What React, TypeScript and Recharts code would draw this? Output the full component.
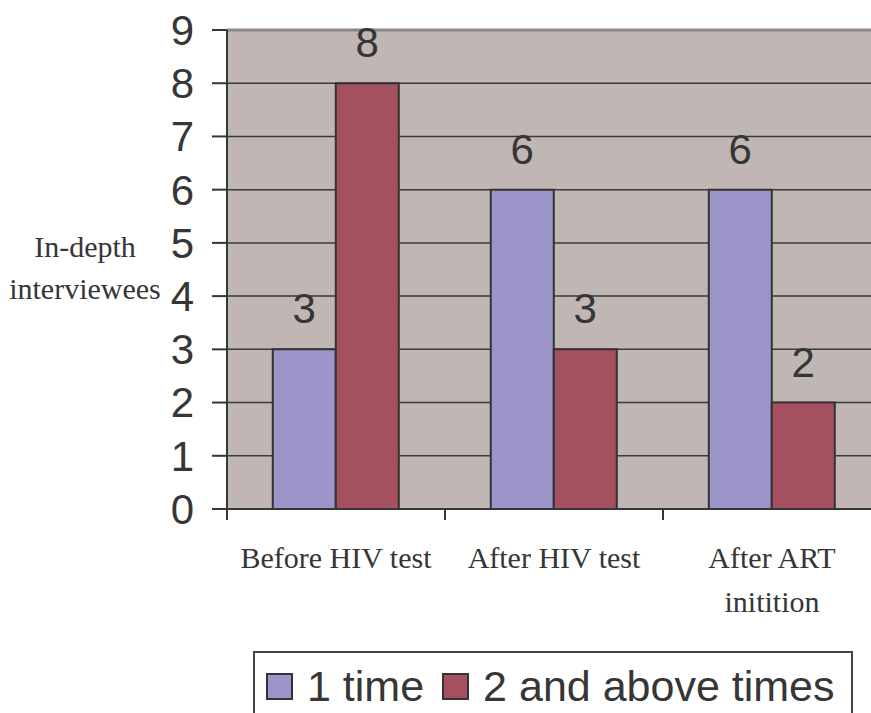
import { BarChart, Bar, XAxis, YAxis, CartesianGrid, ReferenceLine, LabelList } from "recharts";

const categories = ["Before HIV test", "After HIV test", "After ART initition"];
const oneTime = [3, 6, 6];
const twoAndAbove = [8, 3, 2];
const yTicks = [0, 1, 2, 3, 4, 5, 6, 7, 8, 9];
const SERIES = [
  { key: "oneTime", name: "1 time", color: "#9b95c9" },
  { key: "twoAndAbove", name: "2 and above times", color: "#a5505f" },
];

const data = categories.map((c, i) => ({ name: c, oneTime: oneTime[i], twoAndAbove: twoAndAbove[i] }));

const SANS = "'Liberation Sans', Arial, sans-serif";
const SERIF = "'Liberation Serif', 'Times New Roman', serif";
const INK = "#363636";

// simple word wrap by character count
function wrap(label: string, max: number) {
  const lines: string[] = [];
  let cur = "";
  label.split(" ").forEach((w) => {
    const next = cur ? cur + " " + w : w;
    if (next.length > max && cur) {
      lines.push(cur);
      cur = w;
    } else cur = next;
  });
  if (cur) lines.push(cur);
  return lines;
}

function CategoryTick(props: any) {
  const { x, y, payload } = props;
  const half = 109; // half of a category band
  const lines = wrap(String(payload.value), 16);
  return (
    <g>
      <line x1={x - half} x2={x - half} y1={y} y2={y + 11} stroke={INK} strokeWidth={2} />
      <text textAnchor="middle" fill={INK} style={{ fontSize: 30, fontFamily: SERIF }}>
        {lines.map((l, i) => (
          <tspan key={i} x={x} y={y + 59 + i * 44}>
            {l}
          </tspan>
        ))}
      </text>
    </g>
  );
}

function YTitle(props: any) {
  const vb = props.viewBox || { x: 0, y: 30, width: 227, height: 479 };
  const cy = vb.y + vb.height / 2;
  return (
    <text textAnchor="middle" fill={INK} style={{ fontSize: 30, fontFamily: SERIF }}>
      <tspan x={85} y={cy - 13}>In-depth</tspan>
      <tspan x={85} y={cy + 29}>interviewees</tspan>
    </text>
  );
}

export default function App() {
  return (
    <div style={{ position: "absolute", left: 0, top: 0, width: 871, height: 713, overflow: "hidden", background: "#fff" }}>
      <BarChart
        width={881}
        height={713}
        data={data}
        margin={{ top: 30, right: 0, bottom: 0, left: 0 }}
        barCategoryGap="21%"
        barGap={0}
      >
        <CartesianGrid vertical={false} stroke="#3a3a3a" strokeWidth={1.5} fill="#c0b6b3" fillOpacity={1} />
        <ReferenceLine y={9} stroke="#8f8583" strokeWidth={3} />
        <XAxis
          dataKey="name"
          height={204}
          tickSize={0}
          tickMargin={0}
          tickLine={false}
          axisLine={{ stroke: INK, strokeWidth: 2 }}
          tick={<CategoryTick />}
          interval={0}
        />
        <YAxis
          width={227}
          domain={[0, 9]}
          ticks={yTicks}
          interval={0}
          tickSize={15}
          tickMargin={18}
          tickLine={{ stroke: INK, strokeWidth: 2 }}
          axisLine={{ stroke: INK, strokeWidth: 2 }}
          tick={{ fill: INK, fontSize: 42, fontFamily: SANS }}
          label={{ content: <YTitle /> }}
        />
        {SERIES.map((s) => (
          <Bar key={s.key} dataKey={s.key} name={s.name} fill={s.color} stroke="#333" strokeWidth={2} isAnimationActive={false}>
            <LabelList dataKey={s.key} position="top" offset={26} fill={INK} style={{ fontSize: 42, fontFamily: SANS }} />
          </Bar>
        ))}
      </BarChart>
      <div
        style={{
          position: "absolute",
          left: 253,
          top: 651,
          width: 600,
          height: 80,
          border: "2px solid #444",
          boxSizing: "border-box",
          display: "flex",
          alignItems: "flex-start",
          paddingTop: 12,
          paddingLeft: 11,
          fontFamily: SANS,
          fontSize: 43,
          lineHeight: "43px",
          color: INK,
          whiteSpace: "nowrap",
        }}
      >
        {SERIES.map((s) => (
          <div key={s.key} style={{ display: "flex", alignItems: "center", marginRight: 18 }}>
            <span
              style={{
                width: 27,
                height: 27,
                boxSizing: "border-box",
                background: s.color,
                border: "2px solid #333",
                marginRight: 14,
                display: "inline-block",
              }}
            />
            <span>{s.name}</span>
          </div>
        ))}
      </div>
    </div>
  );
}
